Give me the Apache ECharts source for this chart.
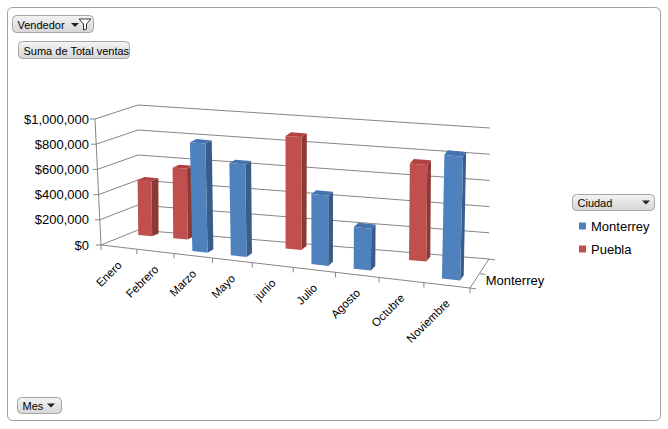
<!DOCTYPE html>
<html><head><meta charset="utf-8">
<script src="https://cdn.jsdelivr.net/npm/echarts@6/dist/echarts.min.js"></script>
<style>html,body{margin:0;padding:0;background:#fff}#c{width:668px;height:429px}</style>
</head><body><div id="c"></div>
<script>
// ---- data ----
const months = ['Enero','Febrero','Marzo','Mayo','junio','Julio','Agosto','Octubre','Noviembre'];
const monterrey = [null, null, 855000, 720000, null, 540000, 320000, null, 935000];
const puebla = [440000, 560000, null, null, 880000, null, null, 740000, null];
const yTicks = [0, 200000, 400000, 600000, 800000, 1000000];
const yTickLabels = ['$0', '$200,000', '$400,000', '$600,000', '$800,000', '$1,000,000'];
const seriesNames = ['Monterrey', 'Puebla'];

// ---- layout / style ----
const FONT = 'Liberation Sans, Arial, sans-serif';
const C = {
  FLB: [101, 245], FRB: [470, 288], BLB: [138, 230], BRB: [489, 259],
  FLT: [95, 119], FRT: [474, 155], BLT: [138, 105], BRT: [490, 128]
};
const BAR_W = 0.4, BAR_D = 0.18;
const ROW_Z = { Monterrey: 0.3, Puebla: 0.82 };
const COLORS = {
  Monterrey: { front: '#4F81BD', side: '#385D8A', top: '#4473AE' },
  Puebla: { front: '#C0504D', side: '#8C3836', top: '#B0423F' }
};
const LINE = '#868686';

function lerp(a, b, t) { return [a[0] + (b[0] - a[0]) * t, a[1] + (b[1] - a[1]) * t]; }
function warp(s) { return s - 0.14 * s * (1 - s); }
function proj(X, Y, Z) {
  const u = warp(X / months.length);
  const bf = lerp(C.FLB, C.FRB, u), bb = lerp(C.BLB, C.BRB, u);
  const tf = lerp(C.FLT, C.FRT, u), tb = lerp(C.BLT, C.BRT, u);
  return lerp(lerp(bf, bb, Z), lerp(tf, tb, Z), Y);
}
function toWorld(params, api, i, v) {
  const cs = params.coordSys;
  const p = api.coord([i, v]);
  return { X: (p[0] - cs.x) / cs.width * months.length, Y: (cs.y + cs.height - p[1]) / cs.height };
}
function line(a, b, color) {
  return { type: 'line', shape: { x1: a[0], y1: a[1], x2: b[0], y2: b[1] }, style: { stroke: color || LINE, lineWidth: 1 } };
}

function barRender(name) {
  const col = COLORS[name], zc = ROW_Z[name];
  return function (params, api) {
    const w = toWorld(params, api, api.value(0), api.value(1));
    const X0 = w.X - BAR_W / 2, X1 = w.X + BAR_W / 2, Z0 = zc - BAR_D / 2, Z1 = zc + BAR_D / 2, Y = w.Y;
    const front = [proj(X0, 0, Z0), proj(X1, 0, Z0), proj(X1, Y, Z0), proj(X0, Y, Z0)];
    const side = [proj(X1, 0, Z0), proj(X1, 0, Z1), proj(X1, Y, Z1), proj(X1, Y, Z0)];
    const top = [proj(X0, Y, Z0), proj(X1, Y, Z0), proj(X1, Y, Z1), proj(X0, Y, Z1)];
    return { type: 'group', children: [
      { type: 'polygon', shape: { points: side }, style: { fill: col.side } },
      { type: 'polygon', shape: { points: front }, style: { fill: col.front } },
      { type: 'polygon', shape: { points: top }, style: { fill: col.top } }
    ] };
  };
}

function wallRender(params, api) {
  const w = toWorld(params, api, 0, api.value(1));
  const a = proj(0, w.Y, 0), b = proj(0, w.Y, 1), c = proj(months.length, w.Y, 1);
  return { type: 'group', children: [line(a, b), line(b, c), line(a, [a[0] - 5, a[1]])] };
}

function frameRender(params, api) {
  const n = months.length;
  const ch = [
    line(proj(0, 0, 0), proj(0, 1, 0)),
    line(proj(0, 0, 0), proj(n, 0, 0)),
    line(proj(n, 0, 0), proj(n, 0, 1))
  ];
  for (let k = 0; k <= n; k++) { const p = proj(k, 0, 0); ch.push(line(p, [p[0], p[1] + 5])); }
  [0, 0.5, 1].forEach(z => { const p = proj(n, 0, z); ch.push(line(p, [p[0] + 6, p[1] + 1])); });
  const d = proj(n, 0, ROW_Z.Monterrey);
  ch.push({ type: 'text', x: d[0] + 10, y: d[1] + 1, style: { text: seriesNames[0], fill: '#000', fontSize: 13, fontFamily: FONT, align: 'left', verticalAlign: 'middle' } });
  return { type: 'group', children: ch };
}

function catLabelRender(params, api) {
  const i = api.value(0);
  const w = toWorld(params, api, i, 0);
  const p = proj(w.X, 0, 0);
  return { type: 'text', x: p[0] + 1, y: p[1] + 16, rotation: Math.PI / 4,
    style: { text: months[i], fill: '#000', fontSize: 11.5, fontFamily: FONT, align: 'right', verticalAlign: 'middle' } };
}

function btnFill() {
  return { type: 'linear', x: 0, y: 0, x2: 0, y2: 1, colorStops: [{ offset: 0, color: '#F4F4F4' }, { offset: 1, color: '#D6D6D6' }] };
}
function button(x, y, w, h, label, extra) {
  const ch = [
    { type: 'rect', shape: { x: x, y: y, width: w, height: h, r: 4 }, style: { fill: btnFill(), stroke: '#A5A5A5', lineWidth: 1 } },
    { type: 'text', x: x + 5, y: y + h / 2 + 0.5, style: { text: label, fill: '#000', fontSize: 11, fontFamily: FONT, verticalAlign: 'middle' } }
  ];
  return { type: 'group', children: ch.concat(extra || []) };
}
function tri(cx, cy) {
  return { type: 'polygon', shape: { points: [[cx - 4, cy - 2], [cx + 4, cy - 2], [cx, cy + 2]] }, style: { fill: '#222' } };
}

const chart = echarts.init(document.getElementById('c'), null, { renderer: 'svg' });
const toData = arr => arr.map((v, i) => [i, v]).filter(d => d[1] != null);

chart.setOption({
  animation: false,
  backgroundColor: '#fff',
  grid: { left: 96, top: 119, width: 374, height: 126 },
  xAxis: { type: 'category', data: months, show: false },
  yAxis: {
    type: 'value', min: 0, max: 1000000, interval: 200000,
    axisLine: { show: false }, axisTick: { show: false }, splitLine: { show: false },
    axisLabel: { margin: 7, color: '#000', fontSize: 13, fontFamily: FONT, formatter: v => yTickLabels[yTicks.indexOf(v)] }
  },
  legend: {
    data: seriesNames, orient: 'vertical', left: 574, top: 214, itemWidth: 7, itemHeight: 7, itemGap: 9,
    icon: 'rect', textStyle: { color: '#000', fontSize: 13, fontFamily: FONT, lineHeight: 14 }
  },
  graphic: { elements: [
    { type: 'rect', shape: { x: 7.5, y: 7.5, width: 653, height: 413, r: 5 }, style: { fill: 'none', stroke: '#A0A0A0', lineWidth: 1 } },
    button(12.5, 15.5, 81, 17, 'Vendedor', [
      tri(75, 25),
      { type: 'polygon', shape: { points: [[79, 19], [91, 19], [86.5, 24], [86.5, 29], [83.5, 30], [83.5, 24]] }, style: { fill: '#fff', stroke: '#333', lineWidth: 1 } }
    ]),
    button(18.5, 41.5, 111, 17, 'Suma de Total ventas'),
    button(572.5, 194.5, 82, 16, 'Ciudad', [tri(646, 202.5)]),
    button(17.5, 397.5, 44, 16, 'Mes', [tri(51, 405.5)])
  ] },
  series: [
    { type: 'custom', name: '_walls', coordinateSystem: 'cartesian2d', clip: false, silent: true, z: 1,
      data: yTicks.map(v => [0, v]), renderItem: wallRender },
    { type: 'custom', name: '_frame', coordinateSystem: 'cartesian2d', clip: false, silent: true, z: 1,
      data: [[0, 0]], renderItem: frameRender },
    { type: 'custom', name: seriesNames[1], coordinateSystem: 'cartesian2d', clip: false, z: 2,
      itemStyle: { color: COLORS.Puebla.front }, data: toData(puebla), renderItem: barRender('Puebla') },
    { type: 'custom', name: seriesNames[0], coordinateSystem: 'cartesian2d', clip: false, z: 3,
      itemStyle: { color: COLORS.Monterrey.front }, data: toData(monterrey), renderItem: barRender('Monterrey') },
    { type: 'custom', name: '_cats', coordinateSystem: 'cartesian2d', clip: false, silent: true, z: 4,
      data: months.map((m, i) => [i, 0]), renderItem: catLabelRender }
  ]
});
</script></body></html>
